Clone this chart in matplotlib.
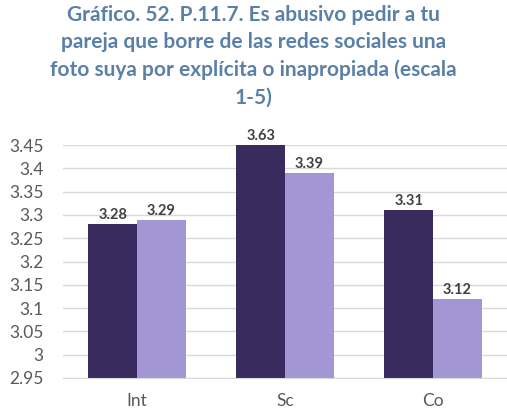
import numpy as np
import matplotlib.pyplot as plt

# Categories and the two series (escala 1-5)
categories = ["Int", "Sc", "Co"]
serie_a = [3.28, 3.63, 3.31]
serie_b = [3.29, 3.39, 3.12]
y_ticks = [2.95, 3, 3.05, 3.1, 3.15, 3.2, 3.25, 3.3, 3.35, 3.4, 3.45]

titulo = ("Gráfico. 52. P.11.7. Es abusivo pedir a tu\n"
          "pareja que borre de las redes sociales una\n"
          "foto suya por explícita o inapropiada (escala\n"
          "1-5)")

color_a = "#3a2b5f"
color_b = "#a297d4"
gris = "#595959"

plt.rcParams["font.family"] = ["Lato", "DejaVu Sans"]

fig = plt.figure(figsize=(5.07, 4.17), dpi=100)
ax = fig.add_axes([63 / 507, 1 - 378 / 417, 444 / 507, 233 / 417])

x = np.arange(len(categories))
w = 0.33
bars_a = ax.bar(x - w / 2, serie_a, w, bottom=0, color=color_a, zorder=2)
bars_b = ax.bar(x + w / 2, serie_b, w, bottom=0, color=color_b, zorder=2)

ymin, ymax = 2.95, 3.45
ax.set_ylim(ymin, ymax)
ax.set_xlim(-0.5, len(categories) - 0.5)

# value labels above each bar (kept inside the frame when a bar runs past the top)
for bars, vals in [(bars_a, serie_a), (bars_b, serie_b)]:
    for b, v in zip(bars, vals):
        ax.text(b.get_x() + b.get_width() / 2, min(v, ymax) + 0.004, f"{v:.2f}",
                ha="center", va="bottom", fontsize=10.5, fontweight="bold",
                color="#404040", clip_on=False)

ax.set_yticks(y_ticks)
ax.set_yticklabels([f"{t:g}" for t in y_ticks])
ax.set_xticks(x)
ax.set_xticklabels(categories)
ax.tick_params(axis="y", length=0, pad=14, labelsize=12.5, labelcolor=gris)
ax.tick_params(axis="x", length=0, pad=11, labelsize=12.5, labelcolor=gris)

ax.yaxis.grid(True, color="#d9d9d9", linewidth=1, zorder=0)
for s in ["left", "right", "top"]:
    ax.spines[s].set_visible(False)
ax.spines["bottom"].set_color("#d9d9d9")

fig.text(0.5, 1 - 5 / 417, titulo, ha="center", va="top", fontsize=15,
         fontweight="bold", color="#5b80a8", linespacing=1.45)

fig.savefig("out.png", dpi=100)
